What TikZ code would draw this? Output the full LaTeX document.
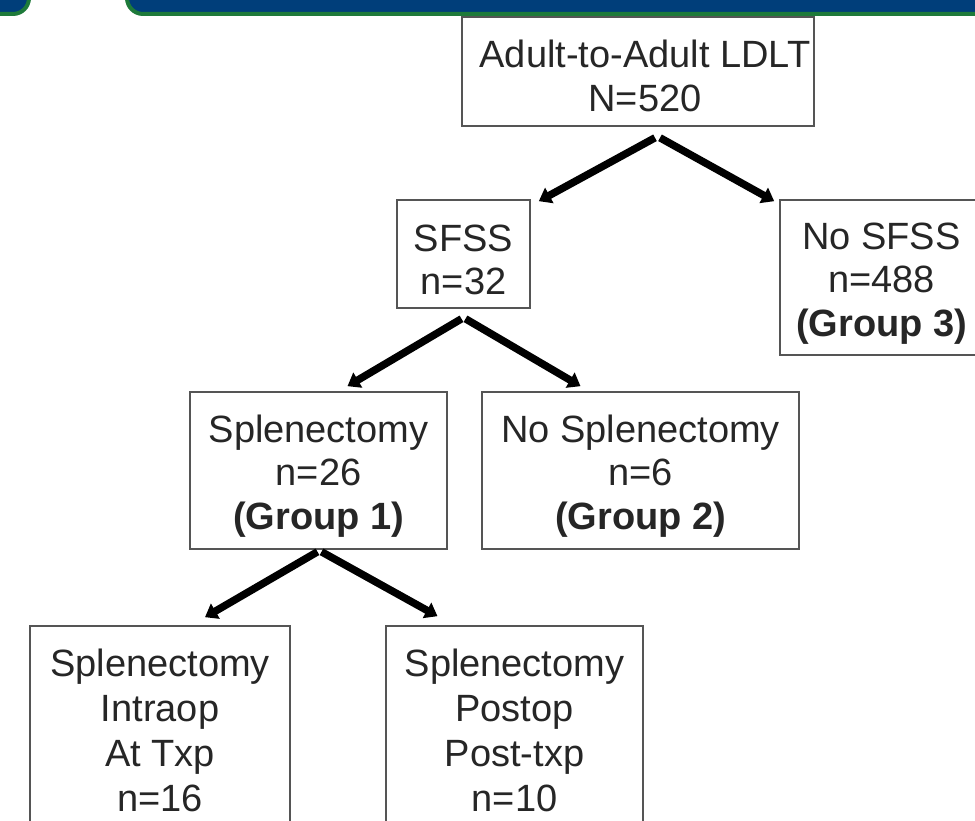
\documentclass[tikz,border=0pt]{standalone}
\usepackage{fontspec}
\setmainfont{Liberation Sans}
\usetikzlibrary{arrows.meta,calc}
\definecolor{bandblue}{RGB}{0,62,122}
\definecolor{bandgreen}{RGB}{30,122,58}
\definecolor{boxgray}{RGB}{85,85,85}
\newcommand{\lowerby}[1]{\rule{0pt}{\dimexpr 28pt+2\dimexpr #1\relax\relax}}
\tikzset{
  fbox/.style={draw=boxgray, line width=1.6pt, rectangle, align=center, inner sep=0pt,
    font=\fontsize{38}{43.5}\selectfont, text=black!85},
  arr/.style={line width=7.5pt, -{Triangle[width=17pt,length=12pt]}, black},
  band/.style={fill=bandblue, draw=bandgreen, line width=4pt, rounded corners=16pt}
}
\begin{document}
\begin{tikzpicture}[x=1pt,y=1pt]
\useasboundingbox (0,0) rectangle (975,821);
\fill[white] (0,0) rectangle (975,821);
% header band pieces
\draw[band] (-120,950) rectangle (29,807);
\draw[band] (127,950) rectangle (1200,807);
% boxes
\node[fbox, minimum width=352pt, minimum height=109pt] (top) at (638,749.5) {\lowerby{4pt}\hspace*{14pt}Adult-to-Adult LDLT\\\hspace*{14pt}N=520};
\node[fbox, minimum width=133pt, minimum height=108pt] (sfss) at (463.5,567) {\lowerby{5pt}SFSS\\n=32};
\node[fbox, minimum width=203pt, minimum height=155pt] (nosfss) at (881.5,543.5) {\lowerby{5pt}No SFSS\\n=488\\\textbf{(Group 3)}};
\node[fbox, minimum width=257pt, minimum height=157pt] (splen) at (318.5,350.5) {\lowerby{5pt}Splenectomy\\n=26\\\textbf{(Group 1)}};
\node[fbox, minimum width=317pt, minimum height=157pt] (nosplen) at (640.5,350.5) {\lowerby{5pt}No Splenectomy\\n=6\\\textbf{(Group 2)}};
\node[fbox, minimum width=260pt, minimum height=209pt, font=\fontsize{38}{45}\selectfont] (intra) at (160,90.5) {Splenectomy\\Intraop\\At Txp\\n=16};
\node[fbox, minimum width=257pt, minimum height=209pt, font=\fontsize{38}{45}\selectfont] (post) at (514.5,90.5) {Splenectomy\\Postop\\Post-txp\\n=10};
% arrows
\draw[arr] ([xshift=17pt,yshift=-11pt]top.south) -- ([xshift=8pt,yshift=-2pt]sfss.north east);
\draw[arr] ([xshift=22pt,yshift=-11pt]top.south) -- ([xshift=-5pt,yshift=-2pt]nosfss.north west);
\draw[arr] ([xshift=-2pt,yshift=-10pt]sfss.south) -- ([xshift=29pt,yshift=5pt]splen.north);
\draw[arr] ([xshift=2pt,yshift=-10pt]sfss.south) -- ([xshift=-60pt,yshift=5pt]nosplen.north);
\draw[arr] ([xshift=-1pt,yshift=-2pt]splen.south) -- ([xshift=45pt,yshift=8pt]intra.north);
\draw[arr] ([xshift=3pt,yshift=-2pt]splen.south) -- ([xshift=-77pt,yshift=9pt]post.north);
\end{tikzpicture}
\end{document}
